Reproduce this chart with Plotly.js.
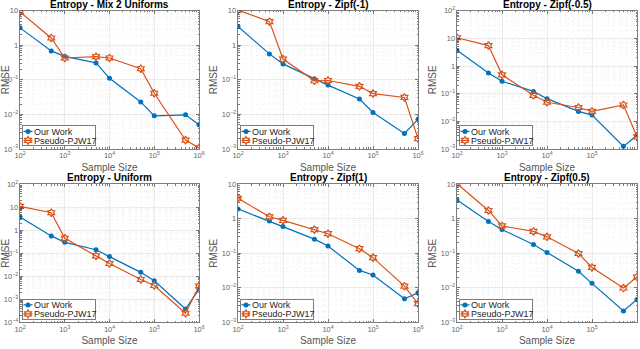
<!DOCTYPE html>
<html>
<head>
<meta charset="utf-8">
<script src="https://cdn.plot.ly/plotly-3.0.1.min.js"></script>
<style>
  html, body { margin: 0; padding: 0; background: #fff; }
  #chart { width: 640px; height: 349px; }
  /* compact MATLAB-style legend: Plotly forces tall rows and a 40px symbol column,
     so each row is pulled left by 28px and the symbol is redrawn just before the text */
  .infolayer g.traces:nth-of-type(1) { transform: translate(-28px, 6px) !important; }
  .infolayer g.traces:nth-of-type(2) { transform: translate(-28px, 15px) !important; }
  .infolayer g.traces .legendlines path { d: path("M29.5,0h9"); }
  .infolayer g.traces .legendpoints path { transform: translate(34px, 0px) !important; }
  .infolayer rect.bg { width: 73px; height: 20px; }
</style>
</head>
<body>
<div id="chart"></div>
<script>
// sample sizes shared by every panel
const sampleSize = [100, 500, 1000, 5000, 10000, 50000, 100000, 500000, 1000000];

const titles = [
  "Entropy - Mix 2 Uniforms", "Entropy - Zipf(-1)", "Entropy - Zipf(-0.5)",
  "Entropy - Uniform", "Entropy - Zipf(1)", "Entropy - Zipf(0.5)"
];

// RMSE, one array per panel and method
const ourMix2 = [3.2, 0.69, 0.48, 0.31, 0.111, 0.023, 0.0091, 0.0097, 0.005];
const pjwMix2 = [9.3, 1.63, 0.43, 0.47, 0.43, 0.21, 0.041, 0.0018, 0.00107];
const ourZipfM1 = [3.5, 0.565, 0.29, 0.107, 0.0705, 0.028, 0.0114, 0.0028, 0.0072];
const pjwZipfM1 = [10.5, 4.85, 0.40, 0.094, 0.096, 0.065, 0.040, 0.031, 0.002];
const ourZipfM05 = [3.7, 0.56, 0.283, 0.121, 0.066, 0.0228, 0.0168, 0.00124, 0.00316];
const pjwZipfM05 = [10.6, 5.5, 0.48, 0.087, 0.049, 0.0316, 0.0228, 0.039, 0.00275];
const ourUniform = [3.8, 0.57, 0.30, 0.143, 0.072, 0.0149, 0.0064, 0.00038, 0.0028];
const pjwUniform = [11, 5.8, 0.45, 0.077, 0.036, 0.0073, 0.0040, 0.00025, 0.0038];
const ourZipf1 = [1.93, 0.86, 0.60, 0.257, 0.162, 0.032, 0.0235, 0.00485, 0.0072];
const pjwZipf1 = [3.9, 1.14, 0.90, 0.485, 0.37, 0.136, 0.075, 0.0112, 0.0035];
const ourZipf05 = [3.5, 0.83, 0.49, 0.179, 0.106, 0.0303, 0.0135, 0.00215, 0.0046];
const pjwZipf05 = [10.4, 1.74, 0.62, 0.43, 0.30, 0.099, 0.039, 0.0099, 0.0205];

const ourSeries = [ourMix2, ourZipfM1, ourZipfM05, ourUniform, ourZipf1, ourZipf05];
const pjwSeries = [pjwMix2, pjwZipfM1, pjwZipfM05, pjwUniform, pjwZipf1, pjwZipf05];

// y ranges (log10) per panel
const yRanges = [[-3, 1], [-3, 1], [-3, 2], [-4, 2], [-3, 1], [-3, 1]];

const BLUE = "#0072BD";
const ORANGE = "#D95319";
const W = 640, H = 349;

// panel boxes in pixels: [left, right] and [top, bottom]
const cols = [[20, 199], [238, 418], [457, 637]];
const rows = [[11, 152], [188, 329]];

const data = [];
const layout = {
  width: W, height: H,
  margin: { l: 0, r: 0, t: 0, b: 0 },
  paper_bgcolor: "#fff",
  plot_bgcolor: "#fff",
  font: { family: "Liberation Sans, Arial, sans-serif", color: "#262626" },
  showlegend: true,
  annotations: []
};

for (let i = 0; i < 6; i++) {
  const r = Math.floor(i / 3), c = i % 3;
  const n = i === 0 ? "" : String(i + 1);
  const xa = "x" + n, ya = "y" + n;
  const lg = "legend" + n;

  data.push({
    x: sampleSize, y: ourSeries[i], xaxis: xa, yaxis: ya,
    type: "scatter", mode: "lines+markers", name: "Our Work", legend: lg,
    line: { color: BLUE, width: 1.2 },
    marker: { color: BLUE, symbol: "circle", size: 5 }
  });
  data.push({
    x: sampleSize, y: pjwSeries[i], xaxis: xa, yaxis: ya,
    type: "scatter", mode: "lines+markers", name: "Pseudo-PJW17", legend: lg,
    line: { color: ORANGE, width: 1.2 },
    marker: { color: ORANGE, symbol: "hexagram-open", size: 6, line: { width: 1.2 } }
  });

  const axisCommon = {
    type: "log",
    dtick: 1,
    exponentformat: "power",
    showline: true, mirror: "ticks",
    linecolor: "#262626", linewidth: 0.6,
    ticks: "inside", ticklen: 3, tickcolor: "#262626", tickwidth: 0.6,
    tickfont: { size: 6, color: "#666" },
    showgrid: true, gridcolor: "#dedede", gridwidth: 0.6,
    minor: { dtick: "D1", showgrid: true, gridcolor: "#efefef", gridwidth: 0.5, griddash: "dot", ticks: "inside", ticklen: 1.5, tickcolor: "#262626" },
    zeroline: false,
    fixedrange: true
  };

  layout["xaxis" + n] = Object.assign({}, axisCommon, {
    domain: [cols[c][0] / W, cols[c][1] / W],
    anchor: ya,
    range: [2, 6],
    title: { text: "Sample Size", font: { size: 10, color: "#555" }, standoff: 4 }
  });
  layout["yaxis" + n] = Object.assign({}, axisCommon, {
    domain: [1 - rows[r][1] / H, 1 - rows[r][0] / H],
    anchor: xa,
    range: yRanges[i],
    title: { text: "RMSE", font: { size: 10, color: "#555" }, standoff: 2 }
  });

  // legend box top sits ~24px above the panel bottom
  layout[lg] = {
    x: (cols[c][0] + 2) / W, y: 1 - (rows[r][1] - 24) / H,
    xanchor: "left", yanchor: "top", xref: "paper", yref: "paper",
    bgcolor: "#fff", bordercolor: "#262626", borderwidth: 0.6,
    font: { size: 9, color: "#262626" },
    tracegroupgap: 0, itemwidth: 30
  };

  layout.annotations.push({
    text: "<b>" + titles[i] + "</b>",
    xref: "paper", yref: "paper",
    x: (cols[c][0] + cols[c][1]) / 2 / W, y: 1 - rows[r][0] / H,
    xanchor: "center", yanchor: "bottom", yshift: -1,
    showarrow: false,
    font: { size: 10, color: "#000" }
  });
}

Plotly.newPlot("chart", data, layout, { staticPlot: true, displayModeBar: false });
</script>
</body>
</html>
